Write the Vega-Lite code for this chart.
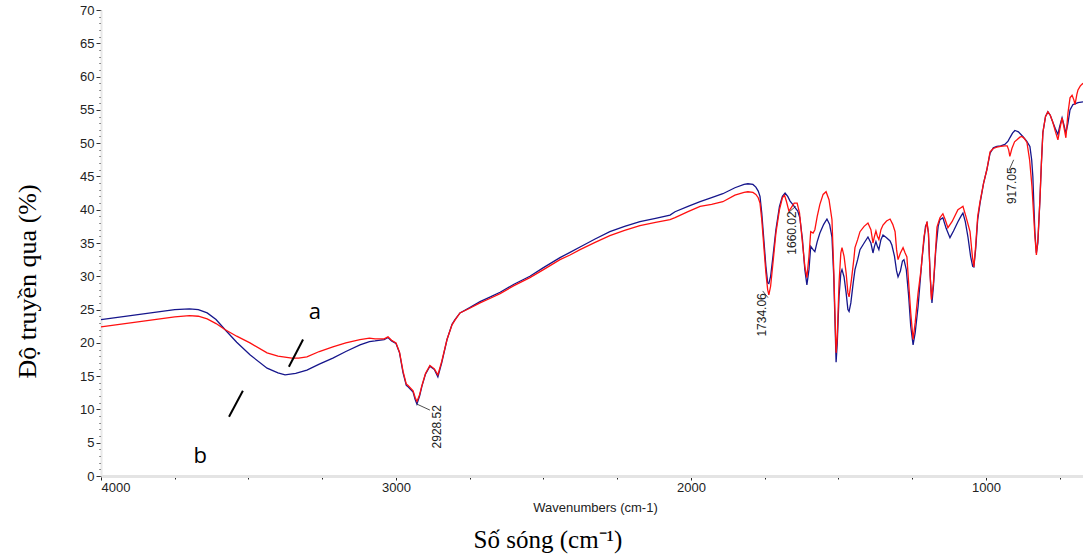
{
  "$schema": "https://vega.github.io/schema/vega-lite/v6.json",
  "width": 982,
  "height": 466,
  "autosize": "none",
  "padding": {"left": 101, "top": 10, "right": 0, "bottom": 78},
  "background": "white",
  "config": {"view": {"stroke": null}},
  "title": {
    "text": "Số sóng (cm⁻¹)",
    "orient": "bottom",
    "anchor": "middle",
    "font": "Liberation Serif",
    "fontSize": 25,
    "fontWeight": "normal",
    "color": "#000000",
    "dx": -44,
    "offset": 14
  },
  "datasets": {
    "blue": [
      {"wn":4000,"T":23.5},{"wn":3950,"T":23.8},{"wn":3900,"T":24.1},{"wn":3850,"T":24.4},{"wn":3800,"T":24.7},{"wn":3750,"T":25.0},{"wn":3700,"T":25.1},{"wn":3670,"T":25.0},{"wn":3640,"T":24.5},{"wn":3610,"T":23.5},{"wn":3580,"T":22.0},{"wn":3540,"T":20.1},{"wn":3495,"T":18.2},{"wn":3437,"T":16.2},{"wn":3400,"T":15.5},{"wn":3376,"T":15.2},{"wn":3340,"T":15.4},{"wn":3302,"T":15.9},{"wn":3260,"T":16.8},{"wn":3214,"T":17.7},{"wn":3170,"T":18.7},{"wn":3122,"T":19.7},{"wn":3090,"T":20.2},{"wn":3071,"T":20.3},{"wn":3040,"T":20.5},{"wn":3027,"T":20.8},{"wn":3015,"T":20.3},{"wn":3000,"T":19.9},{"wn":2988,"T":18.5},{"wn":2976,"T":15.5},{"wn":2965,"T":13.6},{"wn":2959,"T":13.4},{"wn":2942,"T":12.6},{"wn":2935,"T":11.5},{"wn":2929,"T":10.8},{"wn":2920,"T":12.0},{"wn":2912,"T":13.5},{"wn":2900,"T":15.3},{"wn":2885,"T":16.5},{"wn":2870,"T":16.0},{"wn":2858,"T":14.9},{"wn":2845,"T":17.0},{"wn":2827,"T":20.5},{"wn":2810,"T":22.8},{"wn":2800,"T":23.5},{"wn":2783,"T":24.5},{"wn":2750,"T":25.3},{"wn":2715,"T":26.2},{"wn":2680,"T":26.9},{"wn":2647,"T":27.6},{"wn":2600,"T":28.8},{"wn":2546,"T":30.0},{"wn":2500,"T":31.3},{"wn":2444,"T":32.8},{"wn":2410,"T":33.6},{"wn":2376,"T":34.4},{"wn":2325,"T":35.6},{"wn":2275,"T":36.7},{"wn":2225,"T":37.5},{"wn":2173,"T":38.2},{"wn":2120,"T":38.7},{"wn":2071,"T":39.2},{"wn":2054,"T":39.7},{"wn":2010,"T":40.5},{"wn":1969,"T":41.2},{"wn":1930,"T":41.8},{"wn":1892,"T":42.4},{"wn":1851,"T":43.3},{"wn":1820,"T":43.8},{"wn":1807,"T":43.9},{"wn":1790,"T":43.8},{"wn":1780,"T":43.4},{"wn":1772,"T":42.8},{"wn":1766,"T":42.0},{"wn":1760,"T":39.5},{"wn":1753,"T":35.5},{"wn":1746,"T":31.5},{"wn":1740,"T":29.0},{"wn":1736,"T":28.9},{"wn":1730,"T":30.0},{"wn":1722,"T":33.0},{"wn":1712,"T":37.0},{"wn":1700,"T":40.5},{"wn":1690,"T":42.0},{"wn":1681,"T":42.5},{"wn":1672,"T":42.0},{"wn":1664,"T":41.3},{"wn":1655,"T":40.8},{"wn":1647,"T":40.3},{"wn":1638,"T":39.8},{"wn":1631,"T":38.8},{"wn":1622,"T":35.5},{"wn":1614,"T":31.0},{"wn":1607,"T":28.7},{"wn":1600,"T":31.0},{"wn":1594,"T":34.5},{"wn":1586,"T":34.0},{"wn":1580,"T":33.7},{"wn":1572,"T":35.2},{"wn":1563,"T":36.5},{"wn":1550,"T":37.8},{"wn":1539,"T":38.6},{"wn":1530,"T":37.8},{"wn":1522,"T":35.9},{"wn":1516,"T":30.0},{"wn":1511,"T":22.0},{"wn":1508,"T":17.1},{"wn":1504,"T":20.0},{"wn":1498,"T":27.0},{"wn":1492,"T":30.5},{"wn":1488,"T":31.0},{"wn":1481,"T":29.9},{"wn":1474,"T":27.5},{"wn":1468,"T":25.0},{"wn":1464,"T":24.7},{"wn":1458,"T":26.0},{"wn":1450,"T":29.0},{"wn":1444,"T":31.0},{"wn":1435,"T":32.5},{"wn":1427,"T":34.0},{"wn":1413,"T":35.0},{"wn":1400,"T":35.9},{"wn":1390,"T":35.0},{"wn":1383,"T":33.5},{"wn":1378,"T":34.5},{"wn":1373,"T":35.2},{"wn":1368,"T":34.5},{"wn":1363,"T":34.0},{"wn":1356,"T":35.5},{"wn":1349,"T":36.2},{"wn":1337,"T":35.8},{"wn":1325,"T":35.3},{"wn":1319,"T":34.7},{"wn":1310,"T":33.0},{"wn":1303,"T":30.8},{"wn":1298,"T":29.9},{"wn":1290,"T":30.8},{"wn":1283,"T":32.3},{"wn":1278,"T":32.5},{"wn":1270,"T":31.0},{"wn":1262,"T":27.0},{"wn":1255,"T":22.5},{"wn":1247,"T":19.7},{"wn":1240,"T":21.5},{"wn":1230,"T":25.5},{"wn":1217,"T":32.5},{"wn":1205,"T":37.5},{"wn":1200,"T":38.0},{"wn":1195,"T":36.5},{"wn":1189,"T":30.0},{"wn":1183,"T":26.0},{"wn":1178,"T":28.5},{"wn":1170,"T":34.0},{"wn":1162,"T":37.5},{"wn":1156,"T":38.5},{"wn":1146,"T":38.8},{"wn":1135,"T":37.2},{"wn":1122,"T":35.8},{"wn":1110,"T":36.8},{"wn":1095,"T":38.2},{"wn":1085,"T":39.0},{"wn":1078,"T":39.5},{"wn":1070,"T":38.2},{"wn":1061,"T":35.9},{"wn":1052,"T":33.0},{"wn":1045,"T":31.5},{"wn":1041,"T":31.4},{"wn":1035,"T":34.0},{"wn":1028,"T":38.5},{"wn":1020,"T":41.0},{"wn":1008,"T":44.0},{"wn":997,"T":46.0},{"wn":986,"T":48.5},{"wn":975,"T":49.3},{"wn":963,"T":49.5},{"wn":950,"T":49.6},{"wn":936,"T":49.8},{"wn":925,"T":50.3},{"wn":919,"T":50.8},{"wn":910,"T":51.5},{"wn":902,"T":51.9},{"wn":890,"T":51.7},{"wn":875,"T":51.0},{"wn":862,"T":50.3},{"wn":851,"T":49.5},{"wn":845,"T":47.5},{"wn":841,"T":45.0},{"wn":837,"T":40.0},{"wn":834,"T":36.5},{"wn":829,"T":33.5},{"wn":824,"T":35.0},{"wn":817,"T":41.5},{"wn":812,"T":47.0},{"wn":807,"T":51.6},{"wn":798,"T":54.0},{"wn":790,"T":54.7},{"wn":782,"T":54.2},{"wn":773,"T":53.1},{"wn":765,"T":52.2},{"wn":756,"T":51.3},{"wn":750,"T":52.5},{"wn":742,"T":53.8},{"wn":736,"T":52.8},{"wn":729,"T":51.5},{"wn":722,"T":53.0},{"wn":715,"T":55.0},{"wn":705,"T":55.8},{"wn":698,"T":55.9},{"wn":688,"T":56.1},{"wn":671,"T":56.2}
    ],
    "red": [
      {"wn":4000,"T":22.4},{"wn":3950,"T":22.7},{"wn":3900,"T":23.0},{"wn":3850,"T":23.3},{"wn":3800,"T":23.6},{"wn":3750,"T":23.9},{"wn":3700,"T":24.1},{"wn":3670,"T":24.0},{"wn":3640,"T":23.6},{"wn":3610,"T":22.9},{"wn":3580,"T":22.0},{"wn":3540,"T":21.0},{"wn":3495,"T":20.0},{"wn":3437,"T":18.5},{"wn":3400,"T":18.0},{"wn":3353,"T":17.7},{"wn":3330,"T":17.7},{"wn":3302,"T":17.9},{"wn":3260,"T":18.7},{"wn":3214,"T":19.4},{"wn":3170,"T":20.0},{"wn":3122,"T":20.5},{"wn":3090,"T":20.7},{"wn":3071,"T":20.6},{"wn":3040,"T":20.6},{"wn":3027,"T":20.9},{"wn":3015,"T":20.4},{"wn":3000,"T":20.0},{"wn":2988,"T":18.6},{"wn":2976,"T":15.7},{"wn":2965,"T":13.8},{"wn":2959,"T":13.6},{"wn":2942,"T":12.8},{"wn":2935,"T":11.8},{"wn":2929,"T":11.2},{"wn":2920,"T":12.2},{"wn":2912,"T":13.6},{"wn":2900,"T":15.4},{"wn":2885,"T":16.6},{"wn":2870,"T":16.1},{"wn":2858,"T":15.2},{"wn":2845,"T":17.2},{"wn":2827,"T":20.5},{"wn":2810,"T":22.7},{"wn":2800,"T":23.4},{"wn":2783,"T":24.5},{"wn":2750,"T":25.2},{"wn":2715,"T":26.0},{"wn":2680,"T":26.7},{"wn":2647,"T":27.4},{"wn":2600,"T":28.6},{"wn":2546,"T":29.8},{"wn":2500,"T":31.0},{"wn":2444,"T":32.5},{"wn":2410,"T":33.2},{"wn":2376,"T":34.0},{"wn":2325,"T":35.1},{"wn":2275,"T":36.1},{"wn":2225,"T":36.9},{"wn":2173,"T":37.6},{"wn":2120,"T":38.1},{"wn":2071,"T":38.5},{"wn":2054,"T":38.8},{"wn":2010,"T":39.7},{"wn":1969,"T":40.5},{"wn":1930,"T":40.8},{"wn":1892,"T":41.2},{"wn":1851,"T":42.2},{"wn":1820,"T":42.6},{"wn":1807,"T":42.7},{"wn":1790,"T":42.6},{"wn":1780,"T":42.3},{"wn":1772,"T":41.8},{"wn":1766,"T":41.0},{"wn":1760,"T":38.5},{"wn":1753,"T":34.5},{"wn":1746,"T":30.5},{"wn":1740,"T":28.0},{"wn":1736,"T":27.2},{"wn":1730,"T":28.5},{"wn":1722,"T":32.0},{"wn":1712,"T":36.5},{"wn":1700,"T":40.0},{"wn":1690,"T":41.8},{"wn":1683,"T":42.2},{"wn":1676,"T":41.2},{"wn":1668,"T":39.8},{"wn":1660,"T":40.3},{"wn":1650,"T":41.0},{"wn":1640,"T":41.0},{"wn":1632,"T":39.5},{"wn":1622,"T":35.0},{"wn":1614,"T":31.5},{"wn":1607,"T":29.8},{"wn":1600,"T":33.0},{"wn":1594,"T":36.7},{"wn":1586,"T":36.5},{"wn":1580,"T":37.0},{"wn":1572,"T":39.0},{"wn":1563,"T":40.8},{"wn":1552,"T":42.3},{"wn":1542,"T":42.7},{"wn":1532,"T":41.5},{"wn":1522,"T":38.5},{"wn":1516,"T":31.0},{"wn":1511,"T":23.0},{"wn":1508,"T":18.5},{"wn":1504,"T":21.0},{"wn":1498,"T":29.0},{"wn":1492,"T":33.5},{"wn":1488,"T":34.3},{"wn":1481,"T":33.0},{"wn":1474,"T":30.5},{"wn":1468,"T":27.5},{"wn":1464,"T":26.9},{"wn":1456,"T":29.5},{"wn":1448,"T":32.5},{"wn":1444,"T":34.3},{"wn":1435,"T":35.5},{"wn":1427,"T":36.7},{"wn":1413,"T":37.5},{"wn":1400,"T":38.0},{"wn":1390,"T":37.0},{"wn":1383,"T":35.0},{"wn":1378,"T":36.0},{"wn":1373,"T":36.8},{"wn":1368,"T":36.0},{"wn":1363,"T":35.5},{"wn":1356,"T":37.0},{"wn":1349,"T":37.7},{"wn":1337,"T":38.3},{"wn":1325,"T":38.6},{"wn":1316,"T":37.8},{"wn":1308,"T":36.7},{"wn":1303,"T":34.0},{"wn":1298,"T":32.5},{"wn":1290,"T":33.5},{"wn":1281,"T":34.3},{"wn":1274,"T":33.5},{"wn":1268,"T":32.9},{"wn":1262,"T":29.0},{"wn":1255,"T":24.5},{"wn":1247,"T":20.5},{"wn":1240,"T":23.0},{"wn":1230,"T":27.5},{"wn":1220,"T":31.0},{"wn":1210,"T":36.0},{"wn":1200,"T":38.2},{"wn":1195,"T":36.5},{"wn":1189,"T":30.0},{"wn":1185,"T":26.5},{"wn":1178,"T":29.0},{"wn":1172,"T":33.0},{"wn":1166,"T":37.4},{"wn":1156,"T":38.8},{"wn":1146,"T":39.4},{"wn":1138,"T":38.5},{"wn":1129,"T":37.3},{"wn":1115,"T":38.2},{"wn":1095,"T":40.0},{"wn":1085,"T":40.3},{"wn":1078,"T":40.5},{"wn":1068,"T":39.0},{"wn":1054,"T":36.7},{"wn":1046,"T":33.0},{"wn":1041,"T":31.4},{"wn":1035,"T":34.5},{"wn":1028,"T":39.0},{"wn":1020,"T":41.2},{"wn":1008,"T":44.0},{"wn":997,"T":46.0},{"wn":986,"T":48.7},{"wn":975,"T":49.2},{"wn":963,"T":49.4},{"wn":950,"T":49.5},{"wn":936,"T":49.6},{"wn":928,"T":49.6},{"wn":923,"T":49.0},{"wn":919,"T":48.0},{"wn":912,"T":49.2},{"wn":903,"T":50.2},{"wn":895,"T":50.5},{"wn":885,"T":50.9},{"wn":878,"T":51.0},{"wn":870,"T":50.7},{"wn":861,"T":50.1},{"wn":852,"T":47.5},{"wn":844,"T":43.5},{"wn":838,"T":39.0},{"wn":834,"T":36.0},{"wn":829,"T":33.2},{"wn":824,"T":35.5},{"wn":817,"T":41.5},{"wn":812,"T":47.0},{"wn":807,"T":51.6},{"wn":798,"T":54.0},{"wn":790,"T":54.7},{"wn":782,"T":54.2},{"wn":773,"T":53.1},{"wn":765,"T":51.8},{"wn":756,"T":50.5},{"wn":750,"T":52.0},{"wn":742,"T":53.8},{"wn":736,"T":52.5},{"wn":729,"T":50.8},{"wn":722,"T":54.5},{"wn":715,"T":56.8},{"wn":708,"T":57.2},{"wn":702,"T":56.5},{"wn":698,"T":55.8},{"wn":692,"T":57.3},{"wn":688,"T":58.0},{"wn":680,"T":58.6},{"wn":671,"T":59.0}
    ],
    "peaks": [
      {"wn":2861,"T":7.4,"label":"2928.52"},
      {"wn":1759,"T":24.2,"label":"1734.06"},
      {"wn":1658,"T":36.5,"label":"1660.02"},
      {"wn":912,"T":43.6,"label":"917.05"}
    ],
    "leaders": [
      {"wn":2929,"T":10.8,"wn2":2885,"T2":9.9},
      {"wn":1739,"T":26.8,"wn2":1757,"T2":27.8},
      {"wn":1669,"T":39.6,"wn2":1645,"T2":40.5},
      {"wn":922,"T":45.9,"wn2":906,"T2":47.5}
    ],
    "marks": [
      {"wn":3363,"T":16.4,"wn2":3315,"T2":20.5},
      {"wn":3566,"T":8.9,"wn2":3519,"T2":12.8}
    ],
    "letters": [
      {"wn":3275,"T":24.6,"label":"a"},
      {"wn":3664,"T":3.0,"label":"b"}
    ]
  },
  "encoding": {
    "x": {
      "field": "wn",
      "type": "quantitative",
      "scale": {"domain": [671, 4000], "reverse": true, "nice": false, "zero": false},
      "axis": {
        "values": [4000,3750,3500,3250,3000,2750,2500,2250,2000,1750,1500,1250,1000,750],
        "format": "d",
        "labelExpr": "datum.value % 1000 === 0 ? datum.label : ''",
        "labelOverlap": false,
        "labelFont": "Liberation Sans",
        "labelFontSize": 13,
        "labelColor": "#222222",
        "labelPadding": 1,
        "tickColor": "#222222",
        "tickSize": {"condition": {"test": "datum.value % 1000 === 0", "value": 4}, "value": 3},
        "domainColor": "#e4e4e4",
        "domainWidth": 3,
        "grid": false,
        "title": "Wavenumbers (cm-1)",
        "titleFont": "Liberation Sans",
        "titleFontSize": 13,
        "titleFontWeight": "normal",
        "titleColor": "#222222",
        "titleX": 494,
        "titleY": 31,
        "titleAlign": "center",
        "titleBaseline": "middle"
      }
    },
    "y": {
      "field": "T",
      "type": "quantitative",
      "scale": {"domain": [0, 70], "nice": false, "zero": true},
      "axis": {
        "values": [0,1,2,3,4,5,6,7,8,9,10,11,12,13,14,15,16,17,18,19,20,21,22,23,24,25,26,27,28,29,30,31,32,33,34,35,36,37,38,39,40,41,42,43,44,45,46,47,48,49,50,51,52,53,54,55,56,57,58,59,60,61,62,63,64,65,66,67,68,69,70],
        "labelExpr": "datum.value % 5 === 0 ? datum.label : ''",
        "labelOverlap": false,
        "labelFont": "Liberation Sans",
        "labelFontSize": 13,
        "labelColor": "#222222",
        "labelPadding": 2,
        "tickColor": "#333333",
        "tickSize": {"condition": {"test": "datum.value % 5 === 0", "value": 5}, "value": 2},
        "domainColor": "#e8e8e8",
        "domainWidth": 2,
        "grid": false,
        "title": "Độ truyền qua (%)",
        "titleFont": "Liberation Serif",
        "titleFontSize": 26,
        "titleFontWeight": "normal",
        "titleColor": "#000000",
        "titleX": -74,
        "titleY": 271,
        "titleAngle": 270,
        "titleAlign": "center",
        "titleBaseline": "middle"
      }
    }
  },
  "layer": [
    {
      "data": {"name": "blue"},
      "mark": {"type": "line", "color": "#16168c", "strokeWidth": 1.3}
    },
    {
      "data": {"name": "red"},
      "mark": {"type": "line", "color": "#ff1010", "strokeWidth": 1.3}
    },
    {
      "data": {"name": "leaders"},
      "mark": {"type": "rule", "color": "#222222", "strokeWidth": 0.8},
      "encoding": {"x2": {"field": "wn2"}, "y2": {"field": "T2"}}
    },
    {
      "data": {"name": "peaks"},
      "mark": {"type": "text", "angle": 270, "align": "center", "baseline": "middle", "font": "Liberation Sans", "fontSize": 12, "color": "#222222"},
      "encoding": {"text": {"field": "label"}}
    },
    {
      "data": {"name": "marks"},
      "mark": {"type": "rule", "color": "#000000", "strokeWidth": 2},
      "encoding": {"x2": {"field": "wn2"}, "y2": {"field": "T2"}}
    },
    {
      "data": {"name": "letters"},
      "mark": {"type": "text", "align": "center", "baseline": "middle", "font": "Open Sans", "fontSize": 22, "color": "#000000"},
      "encoding": {"text": {"field": "label"}}
    }
  ]
}
